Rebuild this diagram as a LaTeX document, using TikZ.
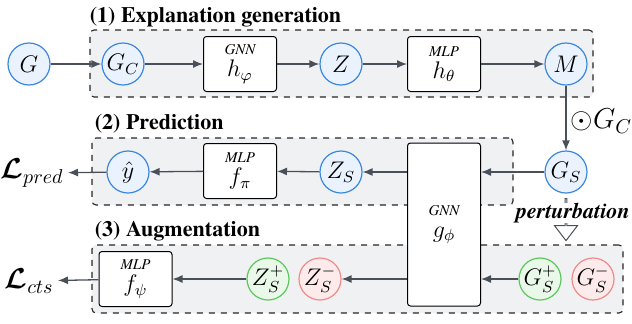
\documentclass[tikz,border=0pt]{standalone}
\usepackage{amsmath}
\usepackage{fontspec}
\setmainfont{texgyretermes}[Extension=.otf,UprightFont=*-regular,
  BoldFont=*-bold,ItalicFont=*-italic,BoldItalicFont=*-bolditalic]
\usetikzlibrary{arrows.meta,positioning,fit,backgrounds,shapes.arrows}
\definecolor{ink}{HTML}{4A5059}
\definecolor{blueline}{HTML}{3B87E0}
\definecolor{bluefill}{HTML}{EAF3FD}
\definecolor{greenline}{HTML}{5CC85C}
\definecolor{greenfill}{HTML}{E9F8E9}
\definecolor{redline}{HTML}{F28A8A}
\definecolor{redfill}{HTML}{FDEBEB}
\definecolor{pale}{HTML}{F0F1F3}
\newcommand{\netlabel}[2]{{\fontsize{7.5}{8}\selectfont\itshape #1}\\[-1pt]{\large$#2$}}
\tikzset{
  var/.style={circle,draw=blueline,fill=bluefill,line width=.6pt,
    minimum size=21pt,inner sep=0pt,font=\large},
  posvar/.style={var,draw=greenline,fill=greenfill},
  negvar/.style={var,draw=redline,fill=redfill},
  model/.style={draw=black,rounded corners=1.5pt,fill=white,line width=.5pt,
    minimum width=36.5pt,minimum height=27.5pt,align=center,inner sep=1pt},
  loss/.style={anchor=east,inner sep=2pt,font=\Large},
  arrow/.style={-{Latex[length=5pt,width=4pt]},line width=.65pt,draw=ink},
  fence/.style={draw=black!85,dashed,fill=pale,rounded corners=2pt,
    inner sep=0pt,line width=.55pt},
  title/.style={font=\fontsize{11}{13}\selectfont\bfseries,inner sep=0pt,
    anchor=base west}
}
\begin{document}
\begin{tikzpicture}[x=0.5pt,y=-0.5pt]
\useasboundingbox (0,0) rectangle (632,323);

% (1) explanation generation
\node[var] (g) at (29,64) {$G$};
\node[var] (gc) at (123,64) {$G_C$};
\node[model] (hphi) at (240,64) {\netlabel{GNN}{h_\varphi}};
\node[var] (z) at (341,64) {$Z$};
\node[model] (htheta) at (444,64) {\netlabel{MLP}{h_\theta}};
\node[var] (m) at (566,64) {$M$};
\draw[arrow] (g)--(gc);
\draw[arrow] (gc)--(hphi);
\draw[arrow] (hphi)--(z);
\draw[arrow] (z)--(htheta);
\draw[arrow] (htheta)--(m);

% (2) prediction
\node[var] (gs) at (566,172) {$G_S$};
\node[model,minimum height=81.5pt] (gphi) at (444,224.5) {\netlabel{GNN}{g_\phi}};
\node[var] (zs) at (341,172) {$Z_S$};
\node[model] (fpi) at (240,171) {\netlabel{MLP}{f_\pi}};
\node[var] (yhat) at (128,172) {$\hat{y}$};
\node[loss] (lpred) at (68,173) {$\boldsymbol{\mathcal{L}}_{pred}$};
\draw[arrow] (m) -- node[right,pos=.55,font=\Large,inner sep=2pt] {$\odot G_C$} (gs);
\draw[arrow] (gs.west) -- (gs.west -| gphi.east);
\draw[arrow] (gphi.west |- zs) -- (zs.east);
\draw[arrow] (zs)--(fpi);
\draw[arrow] (fpi)--(yhat);
\draw[arrow] (yhat)--(lpred);

% (3) augmentation
\node[posvar] (gsp) at (540,279) {$G_S^+$};
\node[negvar] (gsn) at (593,279) {$G_S^-$};
\node[negvar] (zsn) at (320,279) {$Z_S^-$};
\node[posvar] (zsp) at (268,279) {$Z_S^+$};
\node[model] (fpsi) at (135.5,279) {\netlabel{MLP}{f_\psi}};
\node[loss] (lcts) at (58,281) {$\boldsymbol{\mathcal{L}}_{cts}$};
\draw[arrow] (gsp.west) -- (gsp.west -| gphi.east);
\draw[arrow] (gphi.west |- zsn) -- (zsn.east);
\draw[arrow] (zsp)--(fpsi);
\draw[arrow] (fpsi)--(lcts);

% perturbation
\node[single arrow,shape border rotate=270,draw=ink,fill=white,line width=.5pt,
  minimum height=21pt,minimum width=11.5pt,single arrow head extend=2.75pt,
  single arrow tip angle=75,inner sep=0pt] (perturb) at (566,219) {};
\node[font=\fontsize{11}{13}\selectfont\bfseries\itshape,fill=white,inner sep=0pt]
  (ptext) at (573,213) {perturbation};

\begin{scope}[on background layer]
\node[fence,fit={(90,30)(593,97)}] (expl) {};
\node[fence,fit={(92,138)(513,205)}] (pred) {};
\node[fence,fit={(92,245)(623,313)}] (aug) {};
\end{scope}
\node[title] at ([yshift=3.5pt]expl.north west) {(1) Explanation generation};
\node[title] at ([xshift=1.5pt,yshift=4pt]pred.north west) {(2) Prediction};
\node[title] at ([xshift=1.5pt,yshift=4pt]aug.north west) {(3) Augmentation};
\end{tikzpicture}
\end{document}
